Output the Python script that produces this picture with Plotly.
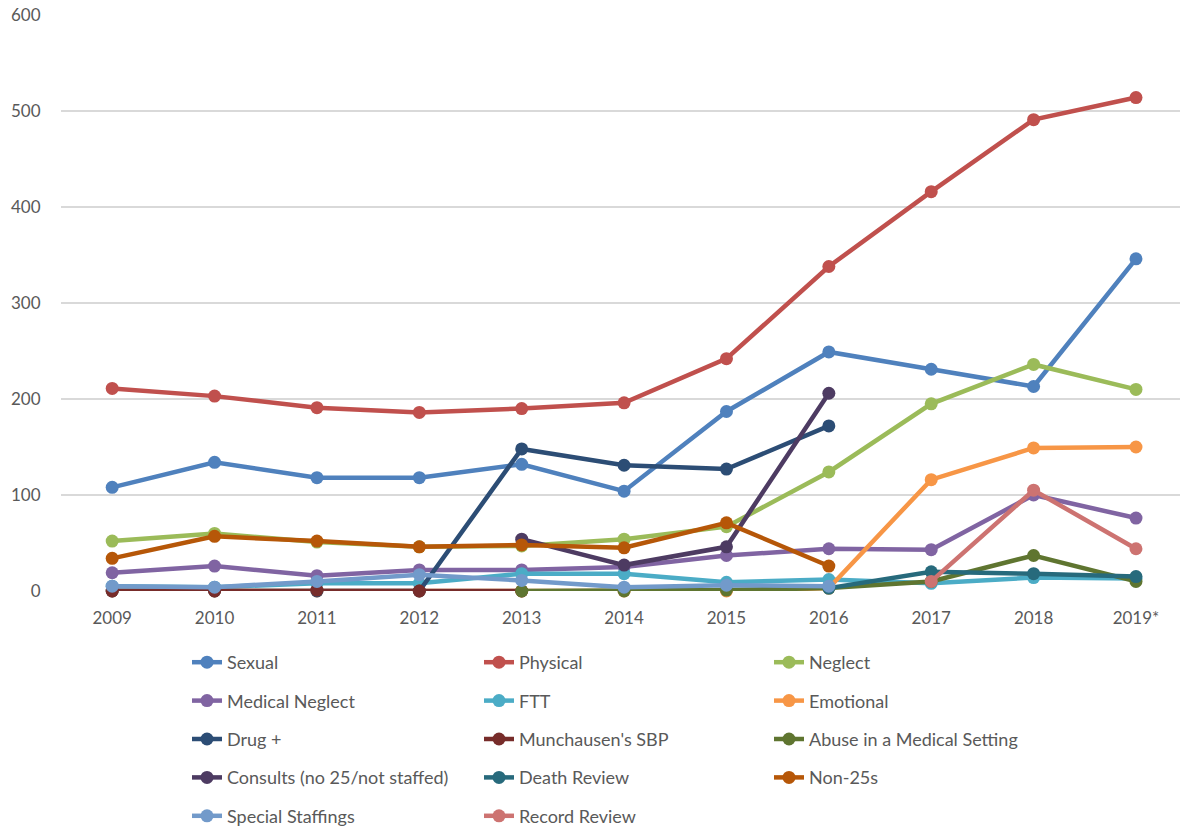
import plotly.graph_objects as go

years = ["2009", "2010", "2011", "2012", "2013", "2014", "2015", "2016", "2017", "2018", "2019*"]

sexual = [108, 134, 118, 118, 132, 104, 187, 249, 231, 213, 346]
physical = [211, 203, 191, 186, 190, 196, 242, 338, 416, 491, 514]
neglect = [52, 60, 51, 46, 47, 54, 67, 124, 195, 236, 210]
medical_neglect = [19, 26, 16, 22, 22, 25, 37, 44, 43, 100, 76]
ftt = [5, 4, 8, 8, 18, 18, 9, 12, 8, 14, 13]
emotional = [0, 0, 0, 0, 0, 0, 0, 3, 116, 149, 150]
drug = [0, 0, 0, 0, 148, 131, 127, 172, None, None, None]
munchausen = [0, 0, 1, 0, 0, None, None, None, None, None, None]
abuse_medical = [None, None, None, None, 0, 0, 1, 3, 10, 37, 10]
consults = [None, None, None, None, 54, 27, 46, 206, None, None, None]
death_review = [None, None, None, None, None, None, None, 3, 20, 18, 15]
non25 = [34, 57, 52, 46, 48, 45, 71, 26, None, None, None]
special_staffings = [5, 4, 10, 17, 11, 4, 6, 5, None, None, None]
record_review = [None, None, None, None, None, None, None, None, 10, 105, 44]

series = [
    ("Sexual", sexual, "#4F81BD", "legend"),
    ("Physical", physical, "#C0504D", "legend2"),
    ("Neglect", neglect, "#9BBB59", "legend3"),
    ("Medical Neglect", medical_neglect, "#8064A2", "legend"),
    ("FTT", ftt, "#4BACC6", "legend2"),
    ("Emotional", emotional, "#F79646", "legend3"),
    ("Drug +", drug, "#2C4D75", "legend"),
    ("Munchausen's SBP", munchausen, "#772C2A", "legend2"),
    ("Abuse in a Medical Setting", abuse_medical, "#5F7530", "legend3"),
    ("Consults (no 25/not staffed)", consults, "#4D3B62", "legend"),
    ("Death Review", death_review, "#276A7C", "legend2"),
    ("Non-25s", non25, "#B65708", "legend3"),
    ("Special Staffings", special_staffings, "#729ACA", "legend"),
    ("Record Review", record_review, "#CD7371", "legend2"),
]

fig = go.Figure()
for name, vals, color, leg in series:
    fig.add_trace(go.Scatter(
        x=years, y=vals, name=name, mode="lines+markers",
        line=dict(color=color, width=4.5),
        marker=dict(color=color, size=13),
        legend=leg, legendgroup=name, connectgaps=False,
        cliponaxis=False,
    ))

font_family = "Lato, 'Open Sans', sans-serif"
tick_color = "#595959"

legend_common = dict(
    orientation="v", xref="container", yref="container",
    yanchor="top", xanchor="left", y=1 - 644 / 831,
    font=dict(family=font_family, size=18, color=tick_color),
    tracegroupgap=12, bgcolor="rgba(0,0,0,0)", itemwidth=30,
)

fig.update_layout(
    width=1180, height=831,
    margin=dict(l=61, r=0, t=15, b=240, autoexpand=False),
    paper_bgcolor="white", plot_bgcolor="white",
    font=dict(family=font_family, size=17, color=tick_color),
    showlegend=True,
    legend=dict(legend_common, x=187 / 1180),
    legend2=dict(legend_common, x=479 / 1180),
    legend3=dict(legend_common, x=769 / 1180),
    xaxis=dict(
        type="category", range=[-0.5, 10.43], showgrid=False,
        ticks="outside", ticklen=12, tickcolor="rgba(0,0,0,0)",
        tickfont=dict(family=font_family, size=17, color=tick_color),
        showline=False, zeroline=False,
    ),
    yaxis=dict(
        range=[0, 600], dtick=100, showgrid=True, gridcolor="#D9D9D9", gridwidth=1.5,
        ticks="outside", ticklen=16, tickcolor="rgba(0,0,0,0)",
        tickfont=dict(family=font_family, size=17, color=tick_color),
        zeroline=False, showline=False,
    ),
)

fig.write_html("out.html")
